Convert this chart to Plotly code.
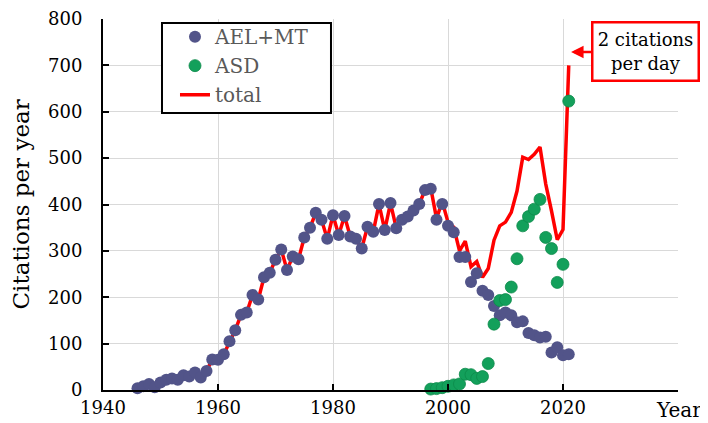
import plotly.graph_objects as go

years_ael = [1946, 1947, 1948, 1949, 1950, 1951, 1952, 1953, 1954, 1955,
             1956, 1957, 1958, 1959, 1960, 1961, 1962, 1963, 1964, 1965,
             1966, 1967, 1968, 1969, 1970, 1971, 1972, 1973, 1974, 1975,
             1976, 1977, 1978, 1979, 1980, 1981, 1982, 1983, 1984, 1985,
             1986, 1987, 1988, 1989, 1990, 1991, 1992, 1993, 1994, 1995,
             1996, 1997, 1998, 1999, 2000, 2001, 2002, 2003, 2004, 2005,
             2006, 2007, 2008, 2009, 2010, 2011, 2012, 2013, 2014, 2015,
             2016, 2017, 2018, 2019, 2020, 2021]
ael_mt = [4, 8, 13, 6, 16, 22, 25, 22, 32, 29,
          38, 27, 41, 66, 65, 77, 105, 129, 162, 167,
          205, 195, 243, 253, 281, 303, 259, 288, 282, 329,
          350, 382, 367, 326, 377, 334, 375, 331, 326, 305,
          352, 341, 401, 345, 403, 349, 367, 374, 387, 401,
          431, 434, 367, 401, 354, 340, 287, 287, 233, 252,
          214, 205, 181, 161, 167, 161, 146, 148, 123, 118,
          113, 115, 81, 92, 75, 77]

years_asd = [1997, 1998, 1999, 2000, 2001, 2002, 2003, 2004, 2005, 2006,
             2007, 2008, 2009, 2010, 2011, 2012, 2013, 2014, 2015, 2016,
             2017, 2018, 2019, 2020, 2021]
asd = [2, 3, 5, 8, 11, 13, 34, 33, 25, 29,
       57, 142, 193, 195, 222, 283, 354, 374, 390, 411,
       329, 305, 232, 271, 623]

total = [4, 8, 13, 6, 16, 22, 25, 22, 32, 29,
         38, 27, 41, 66, 65, 77, 105, 129, 162, 167,
         205, 195, 243, 253, 281, 303, 259, 288, 282, 329,
         350, 382, 367, 326, 377, 334, 375, 331, 326, 305,
         352, 341, 401, 345, 403, 349, 367, 374, 387, 401,
         431, 436, 370, 406, 362, 351, 300, 321, 266, 277,
         243, 262, 323, 354, 362, 383, 429, 502, 497, 508,
         524, 444, 386, 324, 346, 700]

x_ticks = [1940, 1960, 1980, 2000, 2020, 2040]
x_tick_labels = ["1940", "1960", "1980", "2000", "2020", ""]
y_ticks = [0, 100, 200, 300, 400, 500, 600, 700, 800]

FONT = "DejaVu Serif"
BLUE = "#525489"
GREEN = "#13a05b"
RED = "#ff0000"

fig = go.Figure()
fig.add_trace(go.Scatter(
    x=years_ael, y=total, mode="lines", name="total",
    line=dict(color=RED, width=3.5), legendrank=3, cliponaxis=False))
fig.add_trace(go.Scatter(
    x=years_ael, y=ael_mt, mode="markers", name="AEL+MT",
    marker=dict(color=BLUE, size=12, line=dict(width=0)),
    legendrank=1, cliponaxis=False))
fig.add_trace(go.Scatter(
    x=years_asd, y=asd, mode="markers", name="ASD",
    marker=dict(color=GREEN, size=12, line=dict(width=0.8, color="#0d8a4a")),
    legendrank=2, cliponaxis=False))

fig.update_layout(
    width=700, height=415,
    margin=dict(l=95, r=30, t=11, b=33, autoexpand=False),
    paper_bgcolor="white", plot_bgcolor="white",
    font=dict(family=FONT, color="black", size=18),
    showlegend=True,
    legend=dict(
        x=0.1252, y=1.005, xanchor="left", yanchor="top",
        borderwidth=0, bgcolor="rgba(0,0,0,0)",
        font=dict(family=FONT, size=20, color="#595959"),
        tracegroupgap=0,
    ),
    shapes=[
        dict(type="rect", xref="paper", yref="paper",
             x0=0.1026, x1=0.3965, y0=0.7468, y1=0.9892,
             line=dict(color="black", width=2), fillcolor="white",
             layer="above"),
    ],
    xaxis=dict(
        range=[1940, 2040], tickvals=x_ticks, ticktext=x_tick_labels,
        showgrid=True, gridcolor="#d9d9d9", gridwidth=1,
        showline=True, linecolor="black", linewidth=2,
        ticks="inside", ticklen=6, tickwidth=2, tickcolor="black",
        zeroline=False, tickfont=dict(size=18, family=FONT),
        automargin=False,
    ),
    yaxis=dict(
        range=[0, 800], tickvals=y_ticks, ticktext=[str(v) for v in y_ticks],
        showgrid=True, gridcolor="#d9d9d9", gridwidth=1,
        showline=True, linecolor="black", linewidth=2,
        ticks="inside", ticklen=6, tickwidth=2, tickcolor="black",
        zeroline=False, tickfont=dict(size=18, family=FONT),
        ticklabelstandoff=15, automargin=False,
    ),
    annotations=[
        dict(text="Citations per year", xref="paper", yref="paper",
             x=-0.1443, y=0.5, textangle=-90, showarrow=False,
             xanchor="center", yanchor="middle",
             font=dict(family=FONT, size=23, color="black")),
        dict(text="Year", xref="paper", yref="paper",
             x=1.046, y=-0.053, showarrow=False,
             xanchor="right", yanchor="middle",
             font=dict(family=FONT, size=20, color="black")),
        dict(text="2 citations<br>per day", xref="x", yref="y",
             x=2021.4, y=729, ax=74.5, ay=0, axref="pixel", ayref="pixel",
             showarrow=True, arrowhead=2, arrowsize=1, arrowwidth=2.5,
             arrowcolor=RED, bordercolor=RED, borderwidth=2.5,
             borderpad=2, width=100, height=52, bgcolor="white",
             font=dict(family=FONT, size=18, color="black")),
    ],
)

fig.write_html("out.html")
